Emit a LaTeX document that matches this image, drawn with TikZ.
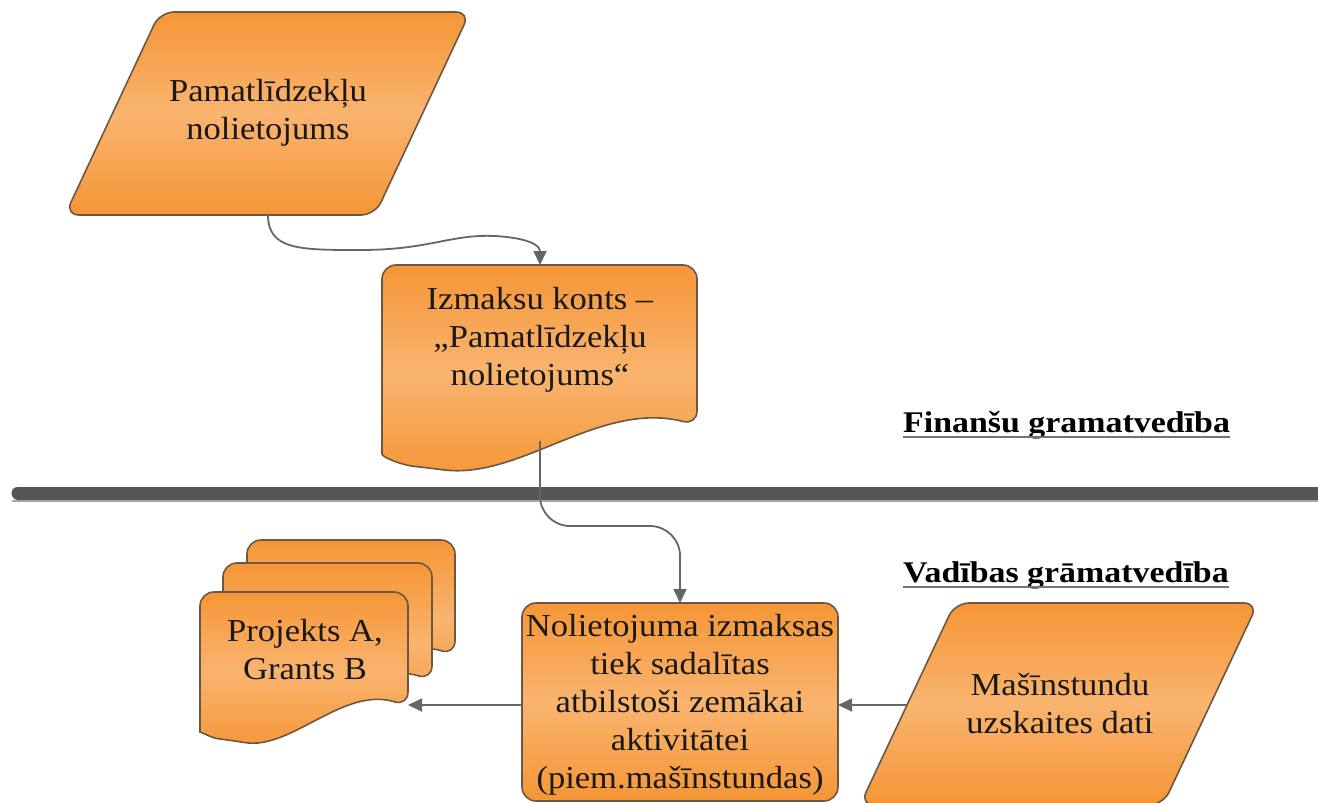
\documentclass[tikz,border=0pt]{standalone}
\usepackage{fontspec}
\setmainfont{Liberation Serif}
\newfontfamily\boxfont[FakeStretch=1.08]{Liberation Serif}
\newfontfamily\labfont[FakeStretch=1.13]{Liberation Serif}
\usetikzlibrary{arrows.meta,calc}
\definecolor{orgD}{HTML}{F59636}
\definecolor{orgL}{HTML}{F9B46F}
\definecolor{edgeC}{HTML}{6B5844}
\definecolor{lineC}{HTML}{666666}
\definecolor{barC}{HTML}{555555}
\tikzset{
  shapebox/.style={draw=edgeC, line width=1.6pt, top color=orgD, bottom color=orgD, middle color=orgL, rounded corners=14pt},
  txt/.style={font=\boxfont\fontsize{32}{38}\selectfont, align=center, text=black!90, inner sep=0pt},
  lab/.style={font=\labfont\bfseries\fontsize{30}{36}\selectfont, text=black, inner sep=0pt},
  conn/.style={draw=lineC, line width=1.8pt, -{Triangle[length=14pt,width=13pt]}},
}
\newcommand\docpath[5]{% L R T yR amp
  \path[shapebox] ({#1},{#4+15*#5}) -- ({#1},{#3}) -- ({#2},{#3}) -- ({#2},{#4})
    .. controls ({#2-0.31*(#2-#1)},{#4-25*#5}) and ({#2-0.56*(#2-#1)},{#4+55*#5}) .. ({#1+0.15*(#2-#1)},{#4+43*#5})
    .. controls ({#1+0.06*(#2-#1)},{#4+40*#5}) and ({#1},{#4+32*#5}) .. cycle;}
\begin{document}
\begin{tikzpicture}[x=1pt,y=-1pt]
\useasboundingbox (0,0) rectangle (1318,803);
\clip (0,0) rectangle (1318,803);
% separator bar
\draw[line width=2.5pt, color=black!35] (12,501) -- (1330,501);
\draw[line width=13pt, color=barC, line cap=round] (18,493) -- (1330,493);
% top parallelogram
\path[shapebox] (160,12) -- (470,12) -- (375,215) -- (65,215) -- cycle;
\node[txt] (p1) at (268,113) {Pamatlīdzekļu\\nolietojums};
% Izmaksu document
\docpath{382}{697}{265}{425}{1}
\node[txt] (izm) at (540,340) {Izmaksu konts –\\„Pamatlīdzekļu\\nolietojums“};
% stacked documents
\docpath{247}{455}{540}{655}{0.8}
\docpath{223}{432}{563}{680}{0.8}
\docpath{200}{408}{592}{706}{0.8}
\node[txt] (proj) at (305,650) {Projekts A,\\Grants B};
% center box
\path[shapebox] (522,603) rectangle (838,801);
\node[txt] (nol) at (680,705) {Nolietojuma izmaksas\\tiek sadalītas\\atbilstoši zemākai\\aktivitātei\\(piem.mašīnstundas)};
% right parallelogram
\path[shapebox] (955,603) -- (1258,603) -- (1163,805) -- (860,805) -- cycle;
\node[txt] (mas) at (1060,704) {Mašīnstundu\\uzskaites dati};
% labels
\node[lab, anchor=base west] (fin) at (903,432) {Finanšu gramatvedība};
\draw[line width=2pt, color=black!55] ($(fin.base west)+(0,5)$) -- ($(fin.base east)+(0,5)$);
\node[lab, anchor=base west] (vad) at (903,582) {Vadības grāmatvedība};
\draw[line width=2pt, color=black!55] ($(vad.base west)+(0,5)$) -- ($(vad.base east)+(0,5)$);
% coordinates
\coordinate (p1b) at (268,215);
\coordinate (izmT) at (540,265);
\coordinate (izmB) at (540,441);
\coordinate (nolT) at (680,603);
\coordinate (nolL) at (522,705);
\coordinate (nolR) at (838,705);
\coordinate (masL) at (907,705);
\coordinate (projR) at (408,705);
% connectors
\draw[conn] (p1b) .. controls (268,250) and (300,250) .. (360,250) .. controls (430,250) and (450,234) .. (495,236) .. controls (528,238) and (540,245) .. (izmT);
\draw[conn, rounded corners=30pt] (izmB) -- (540,526) -- (680,526) -- (nolT);
\draw[conn] (masL) -- (nolR);
\draw[conn] (nolL) -- (projR);
\end{tikzpicture}
\end{document}
